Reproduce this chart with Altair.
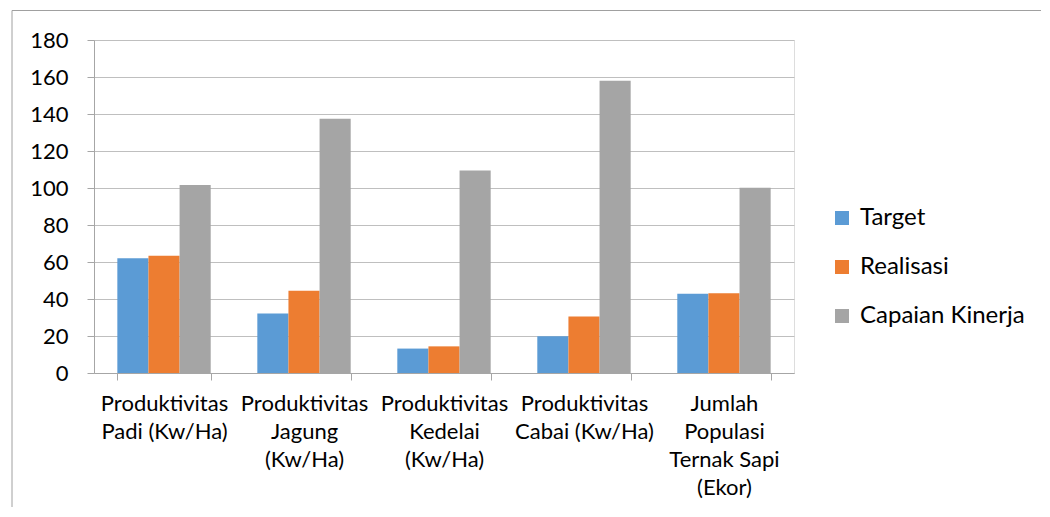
import altair as alt
import pandas as pd

categories = [
    "Produktivitas|Padi (Kw/Ha)",
    "Produktivitas|Jagung|(Kw/Ha)",
    "Produktivitas|Kedelai|(Kw/Ha)",
    "Produktivitas|Cabai (Kw/Ha)",
    "Jumlah|Populasi|Ternak Sapi|(Ekor)",
]
series = ["Target", "Realisasi", "Capaian Kinerja"]
target = [62.0, 32.2, 13.2, 19.8, 42.8]
realisasi = [63.4, 44.4, 14.4, 30.6, 43.1]
capaian = [101.6, 137.5, 109.4, 158.0, 100.2]
colors = ["#5B9BD5", "#ED7D31", "#A5A5A5"]
y_ticks = list(range(0, 181, 20))

rows = []
for name, vals in zip(series, [target, realisasi, capaian]):
    for c, v in zip(categories, vals):
        rows.append({"kategori": c, "seri": name, "nilai": v})
df = pd.DataFrame(rows)

FONT = "Lato"
GRID = "#bfbfbf"
AXIS = "#a6a6a6"

bars = alt.Chart(df).mark_bar().encode(
    x=alt.X(
        "kategori:N",
        sort=categories,
        title=None,
        scale=alt.Scale(paddingInner=0.333, paddingOuter=0.1667),
        axis=alt.Axis(
            labelExpr="split(datum.label, '|')",
            labelAngle=0,
            labelFont=FONT,
            labelFontSize=22,
            labelColor="#000000",
            labelLineHeight=28,
            labelPadding=13,
            labelBaseline="top",
            labelLimit=300,
            tickBand="extent",
            tickSize=7,
            tickColor=AXIS,
            domainColor=AXIS,
            grid=False,
        ),
    ),
    xOffset=alt.XOffset("seri:N", sort=series, scale=alt.Scale(paddingInner=0, paddingOuter=0)),
    y=alt.Y(
        "nilai:Q",
        title=None,
        scale=alt.Scale(domain=[0, 180], nice=False),
        axis=alt.Axis(
            values=y_ticks,
            labelFont=FONT,
            labelFontSize=22,
            labelColor="#000000",
            labelPadding=19,
            tickSize=7,
            tickColor=AXIS,
            domainColor=AXIS,
            gridColor=GRID,
        ),
    ),
    color=alt.Color(
        "seri:N",
        sort=series,
        scale=alt.Scale(domain=series, range=colors),
        legend=alt.Legend(
            title=None,
            orient="none",
            legendX=736,
            legendY=166,
            symbolType="square",
            symbolSize=196,
            symbolStrokeWidth=0,
            labelFont=FONT,
            labelFontSize=24,
            labelColor="#000000",
            labelOffset=6,
            labelLimit=400,
            rowPadding=25,
        ),
    ),
)

border_df = pd.DataFrame({"k": [0]})
top_line = alt.Chart(border_df).mark_rule(color="#a0a0a0", strokeWidth=1).encode(
    x=alt.value(-82), x2=alt.value(947), y=alt.value(-29.5)
)
left_line = alt.Chart(border_df).mark_rule(color="#a0a0a0", strokeWidth=1).encode(
    x=alt.value(-82), y=alt.value(-29.5), y2=alt.value(467)
)

chart = alt.layer(bars, top_line, left_line).properties(
    width=700,
    height=333,
    padding={"left": 3, "top": 2, "right": 0, "bottom": 0},
).configure_view(stroke=None).configure(background="white")

chart.save("out.html", embed_options={"renderer": "svg", "actions": False})
